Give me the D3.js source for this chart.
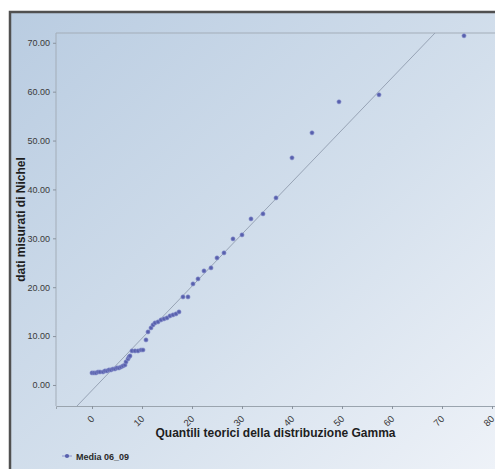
<!DOCTYPE html>
<html>
<head>
<meta charset="UTF-8">
<script src="https://d3js.org/d3.v7.min.js"></script>
<title>Q-Q plot Nichel</title>
<style>
  body { margin: 0; background: #fff; }
  svg { display: block; }
</style>
</head>
<body>
<div id="chart"></div>
<script>
// quantili teorici (gamma) e dati misurati
var theo = [0.0, 0.4, 0.8, 1.2, 1.6, 2.2, 2.6, 3.0, 3.4, 3.8, 4.2, 4.6, 5.0, 5.4, 5.8, 6.2, 6.6,
  6.8, 7.2, 7.4, 7.6, 8.0, 8.6, 9.2, 9.8, 10.2, 10.8, 11.2, 11.8, 12.2, 12.6, 13.2, 13.8,
  14.4, 15.0, 15.6, 16.2, 16.8, 17.4, 18.2, 19.2, 20.2, 21.2, 22.4, 23.8, 25.0, 26.4, 28.2,
  30.0, 31.8, 34.2, 36.8, 40.0, 44.0, 49.4, 57.4, 74.4];
var measured = [2.46, 2.46, 2.46, 2.66, 2.66, 2.66, 2.87, 2.87, 3.07, 3.07, 3.27, 3.27, 3.48, 3.48, 3.68, 3.89, 4.09,
  4.71, 5.32, 5.73, 5.94, 6.96, 6.96, 6.96, 7.16, 7.16, 9.21, 10.85, 11.67, 12.28, 12.69, 12.89, 13.30,
  13.51, 13.71, 14.12, 14.33, 14.53, 14.94, 18.01, 18.01, 20.67, 21.69, 23.33, 23.95, 25.99, 27.02, 29.88,
  30.70, 33.97, 35.00, 38.27, 46.46, 51.58, 57.92, 59.36, 71.43];
// retta di riferimento (due estremi)
var refLine = [[-3.0, -4.3], [68.6, 72.0]];
var xTicks = [0, 10, 20, 30, 40, 50, 60, 70, 80];
var yTicks = [0, 10, 20, 30, 40, 50, 60, 70];
var seriesName = "Media 06_09";

var W = 495, H = 469;
var pLeft = 56, pTop = 33, pRight = 495, pBottom = 406;

var svg = d3.select("#chart").append("svg")
  .attr("width", W).attr("height", H);

var defs = svg.append("defs");
var grad = defs.append("linearGradient").attr("id", "bg")
  .attr("x1", "0").attr("y1", "0").attr("x2", "1").attr("y2", "1");
grad.append("stop").attr("offset", "0").attr("stop-color", "#b9cce1");
grad.append("stop").attr("offset", "0.55").attr("stop-color", "#d3dfec");
grad.append("stop").attr("offset", "1").attr("stop-color", "#eef2f8");
defs.append("clipPath").attr("id", "clip").append("rect")
  .attr("x", pLeft).attr("y", pTop).attr("width", pRight - pLeft).attr("height", pBottom - pTop);

// sfondo e cornice
svg.append("rect").attr("x", 9).attr("y", 11).attr("width", W - 9).attr("height", H - 11)
  .attr("fill", "url(#bg)");
svg.append("path").attr("d", "M10,469 V12 H495")
  .attr("fill", "none").attr("stroke", "#505050").attr("stroke-width", 2.5);

var x = d3.scaleLinear().domain([-7.2, 80.6]).range([pLeft, pRight]);
var y = d3.scaleLinear().domain([-4.3, 72.0]).range([pBottom, pTop]);

// bordo area grafico
svg.append("path").attr("d", "M" + pLeft + "," + pBottom + " V" + pTop + " H" + pRight)
  .attr("fill", "none").attr("stroke", "#a3adb8").attr("stroke-width", 1);

// asse y
var yAxis = svg.append("g").attr("transform", "translate(" + pLeft + ",0)")
  .call(d3.axisLeft(y).tickValues(yTicks).tickFormat(d3.format(".2f")).tickSize(3).tickPadding(3));
yAxis.select(".domain").remove();
yAxis.selectAll("line").attr("stroke", "#8a939e");
yAxis.selectAll("text").attr("fill", "#3a3a3a")
  .style("font-family", "'Liberation Sans Narrow', 'Liberation Sans', Arial, sans-serif")
  .style("font-size", "9px");

// asse x
var xAxis = svg.append("g").attr("transform", "translate(0," + pBottom + ")")
  .call(d3.axisBottom(x).tickValues(xTicks).tickSize(3).tickPadding(2));
xAxis.select(".domain").attr("stroke", "#9aa4ae");
xAxis.selectAll("line").attr("stroke", "#8a939e");
xAxis.selectAll("text")
  .attr("fill", "#3a3a3a")
  .attr("text-anchor", "end")
  .attr("dy", "0")
  .attr("transform", "translate(-1,10) rotate(-45)")
  .style("font-family", "'Liberation Sans Narrow', 'Liberation Sans', Arial, sans-serif")
  .style("font-size", "9.5px");

// retta
svg.append("line")
  .attr("clip-path", "url(#clip)")
  .attr("x1", x(refLine[0][0])).attr("y1", y(refLine[0][1]))
  .attr("x2", x(refLine[1][0])).attr("y2", y(refLine[1][1]))
  .attr("stroke", "#97a3b5").attr("stroke-width", 1);

// punti
var pts = theo.map(function(d, i) { return [d, measured[i]]; });
svg.append("g").selectAll("circle").data(pts).enter().append("circle")
  .attr("cx", function(d) { return x(d[0]); })
  .attr("cy", function(d) { return y(d[1]); })
  .attr("r", 2.1)
  .attr("fill", "#5860ad")
  .attr("stroke", "#8c93cf").attr("stroke-width", 0.6);

// titoli assi
svg.append("text")
  .attr("x", (pLeft + pRight) / 2).attr("y", 437)
  .attr("text-anchor", "middle")
  .style("font-family", "'Liberation Sans', Arial, sans-serif")
  .style("font-size", "12px").style("font-weight", "bold")
  .attr("fill", "#1e1e1e")
  .text("Quantili teorici della distribuzione Gamma");
svg.append("text")
  .attr("transform", "translate(25," + (pTop + pBottom) / 2 + ") rotate(-90)")
  .attr("text-anchor", "middle")
  .style("font-family", "'Liberation Sans', Arial, sans-serif")
  .style("font-size", "12px").style("font-weight", "bold")
  .attr("fill", "#1e1e1e")
  .text("dati misurati di Nichel");

// legenda
var leg = svg.append("g").attr("transform", "translate(67,456)");
leg.append("line").attr("x1", -5).attr("x2", 5).attr("y1", 0).attr("y2", 0)
  .attr("stroke", "#8c93cf").attr("stroke-width", 1);
leg.append("circle").attr("r", 2.1).attr("fill", "#5860ad");
leg.append("text").attr("x", 9).attr("y", 3.5)
  .style("font-family", "'Liberation Sans', Arial, sans-serif")
  .style("font-size", "9px").style("font-weight", "bold")
  .attr("fill", "#2a2a2a")
  .text(seriesName);
</script>
</body>
</html>
